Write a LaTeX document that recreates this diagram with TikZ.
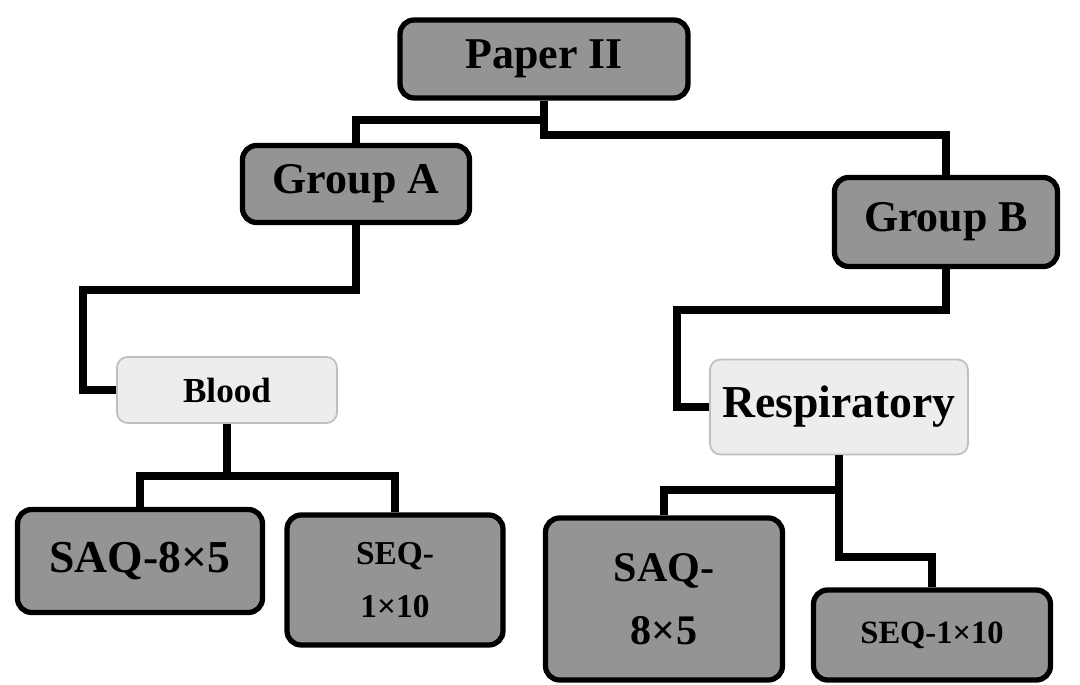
\documentclass[tikz,border=0pt]{standalone}
\usepackage{fontspec}
\setmainfont{Liberation Serif}
\usetikzlibrary{positioning}

\begin{document}
\begin{tikzpicture}[x=0.02cm,y=-0.02cm,
  darkbox/.style={draw,line width=3pt,rounded corners=8pt,fill=black!42,align=center,inner sep=2pt},
  lightbox/.style={draw=black!25,line width=1pt,rounded corners=6pt,fill=black!7,align=center,inner sep=2pt},
  link/.style={line width=4pt}]
\useasboundingbox (0,0) rectangle (1080,685);
% Top level
\node[darkbox,minimum width=5.76cm,minimum height=1.56cm,font=\bfseries\fontsize{25}{27}\selectfont] (paper) at (544,59) {Paper II};
% Groups
\node[darkbox,minimum width=4.54cm,minimum height=1.54cm,font=\bfseries\fontsize{25}{27}\selectfont] (groupA) at (356,184) {Group A};
\node[darkbox,minimum width=4.46cm,minimum height=1.78cm,font=\bfseries\fontsize{25}{27}\selectfont] (groupB) at (946,222) {Group B};
% Systems
\node[lightbox,minimum width=4.4cm,minimum height=1.32cm,font=\bfseries\fontsize{20}{22}\selectfont] (blood) at (227,390) {Blood};
\node[lightbox,minimum width=5.16cm,minimum height=1.9cm,font=\bfseries\fontsize{26}{28}\selectfont] (resp) at (839,407) {Respiratory};
% Question types
\node[darkbox,minimum width=4.9cm,minimum height=2.06cm,font=\bfseries\fontsize{26}{28}\selectfont] (saqA) at (140,561) {SAQ-8×5};
\node[darkbox,minimum width=4.32cm,minimum height=2.6cm,font=\bfseries\fontsize{19}{30}\selectfont] (seqA) at (395,580) {SEQ-\\1×10};
\node[darkbox,minimum width=4.74cm,minimum height=3.24cm,font=\bfseries\fontsize{24}{36}\selectfont] (saqB) at (664,599) {SAQ-\\8×5};
\node[darkbox,minimum width=4.74cm,minimum height=1.8cm,font=\bfseries\fontsize{18.5}{20}\selectfont] (seqB) at (932,635) {SEQ-1×10};
% Connectors
\draw[link] (paper.south) -- (paper.south |- 0,120) -| (groupA.north);
\draw[link] (paper.south) -- (paper.south |- 0,135) -| (groupB.north);
\draw[link] (groupA.south) |- (83,290) |- (blood.west);
\draw[link] (groupB.south) |- (677,310) |- (resp.west);
\draw[link] (blood.south) -- (blood.south |- 0,476) -| (saqA.north);
\draw[link] (blood.south) -- (blood.south |- 0,476) -| (seqA.north);
\draw[link] (resp.south) -- (resp.south |- 0,490) -| (saqB.north);
\draw[link] (resp.south) -- (resp.south |- 0,557) -| (seqB.north);
\end{tikzpicture}
\end{document}
